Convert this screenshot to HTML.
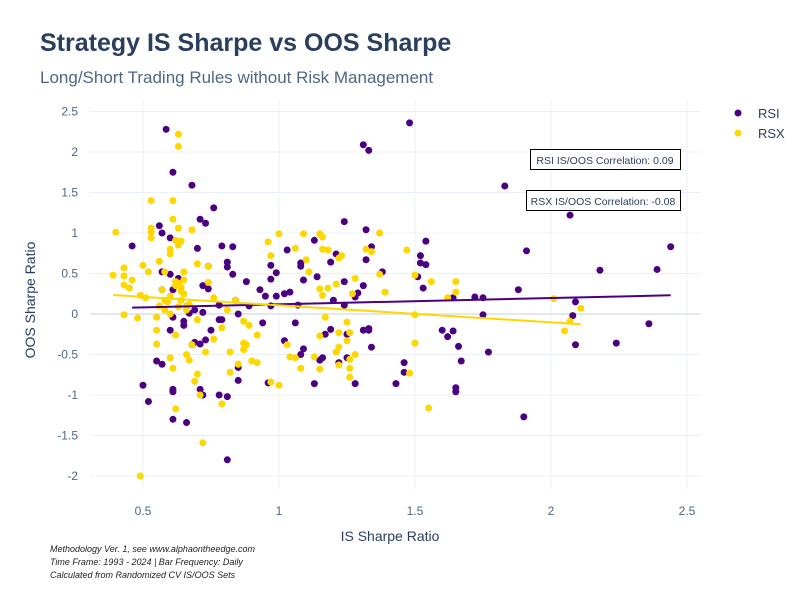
<!DOCTYPE html>
<html><head><meta charset="utf-8"><style>
body{margin:0;background:#fff;font-family:"Liberation Sans",sans-serif;}
svg text{font-family:"Liberation Sans",sans-serif;}
</style></head><body>
<svg id="c" width="800" height="600" xmlns="http://www.w3.org/2000/svg">
<rect width="800" height="600" fill="#fff"/>
<text x="40" y="51" font-size="25" font-weight="bold" fill="#2a3f5f">Strategy IS Sharpe vs OOS Sharpe</text>
<text x="40" y="83" font-size="17" fill="#506784">Long/Short Trading Rules without Risk Management</text>
<g id="grid"></g><g id="marks"></g>
<text x="390" y="541" font-size="14" fill="#2a3f5f" text-anchor="middle">IS Sharpe Ratio</text>
<text transform="translate(35,300) rotate(-90)" font-size="14" fill="#2a3f5f" text-anchor="middle">OOS Sharpe Ratio</text>
<g>
<g><circle cx="738" cy="113" r="3.5" fill="#4b0082"/><text x="758" y="118" font-size="13" fill="#2a3f5f">RSI</text></g>
<g><circle cx="738" cy="133" r="3.5" fill="#ffd700"/><text x="758" y="138" font-size="13" fill="#2a3f5f">RSX</text></g>
</g>
<g><rect x="530.5" y="149.5" width="150" height="20" fill="#fff" stroke="#000"/><text x="605" y="164" font-size="10.5" fill="#2a3f5f" text-anchor="middle">RSI IS/OOS Correlation: 0.09</text></g>
<g><rect x="526.5" y="190.5" width="154" height="20" fill="#fff" stroke="#000"/><text x="603" y="205" font-size="10.5" fill="#2a3f5f" text-anchor="middle">RSX IS/OOS Correlation: -0.08</text></g>
<g font-size="9" font-style="italic" fill="#222">
<text x="50" y="552">Methodology Ver. 1, see www.alphaontheedge.com</text>
<text x="50" y="565">Time Frame: 1993 - 2024 | Bar Frequency: Daily</text>
<text x="50" y="578">Calculated from Randomized CV IS/OOS Sets</text>
</g>
</svg>
<script>
const xTicks=[0.5,1,1.5,2,2.5];
const yTicks=[2.5,2,1.5,1,0.5,0,-0.5,-1,-1.5,-2];
const rsiX=[.585,.61,.68,.76,.73,.71,.56,.57,.46,.6,.79,.83,.81,.7,.81,.74,.83,.57,.6,.72,.63,.57,.61,.74,.78,.69,.79,.85,.89,.93,1.02,.99,1.07,.88,.97,.99,1.08,1.03,1.13,1.21,1.24,1.19,1.32,1.34,1.32,1.38,1.31,1.24,1.29,1.28,1.2,1.04,1.09,1.14,1.08,.97,.97,1.31,1.33,1.48,1.54,1.52,1.52,1.54,1.51,1.53,1.64,1.64,1.62,1.67,1.66,1.65,1.65,1.72,1.75,1.75,1.77,1.83,1.88,1.91,2.07,2.09,2.08,2.09,1.9,2.18,2.24,2.36,2.39,2.44,.5,.52,.61,.61,.61,.66,.71,.72,.81,.78,.85,.85,.81,.55,.57,.6,.65,.68,.71,.73,.75,.78,.72,.67,.61,.65,.69,.94,.95,.84,1.02,1.06,1.08,1.09,1.16,1.17,1.19,1.22,1.25,1.24,1.25,1.31,1.33,1.34,1.33,1.28,1.15,1.13,.96,1.43,1.6,1.46,1.46];
const rsiY=[2.28,1.75,1.59,1.31,1.12,1.17,1.09,1.0,.84,.94,.84,.83,.64,.81,.58,.59,.49,.52,.49,.35,.44,.3,.3,.31,.11,.05,-.07,0,.1,.3,.25,.22,.11,.4,.6,.51,.63,.79,.91,.74,1.14,.64,1.04,.83,.67,.52,.35,.4,.26,.21,.17,.27,.42,.46,.59,.1,.43,2.09,2.02,2.36,.9,.72,.63,.61,.46,.32,.2,-.21,-.28,-.58,-.4,-.91,-.96,.21,-.01,.2,-.47,1.58,.3,.78,1.22,.15,-.02,-.38,-1.27,.54,-.36,-.12,.55,.83,-.88,-1.08,-.93,-1.3,-.96,-1.34,-.93,-1.0,-1.8,-1.0,-.82,-.66,-1.02,-.58,-.62,-.2,-.14,-.38,-.37,-.32,-.2,-.07,.02,.01,-.04,-.09,-.35,-.11,.22,.17,-.33,-.11,-.5,-.43,-.54,-.25,-.19,-.6,-.54,.11,-.25,-.2,-.2,-.41,-.18,-.86,-.57,-.86,-.85,-.86,-.2,-.6,-.72];
const rsxX=[.4,.63,.63,.53,.61,.61,.53,.53,.53,.63,.63,.62,.64,.68,.6,.6,.56,.5,.52,.58,.65,.7,.74,.74,.65,.62,.64,.65,.64,.63,.58,.56,.51,.49,.43,.45,.43,.43,.39,.43,.48,.46,.55,.55,.55,.62,.6,.61,.66,.67,.68,.7,.73,.7,.69,.71,.62,.72,.49,.79,.87,.87,.85,.82,.82,.81,.76,.79,.88,.89,.9,.92,.92,.87,.76,.84,.96,.97,1.0,.97,1.0,1.03,1.06,1.04,1.06,1.09,1.1,1.11,1.15,1.16,1.16,1.18,1.18,1.15,1.16,1.15,1.17,1.22,1.25,1.26,1.25,1.22,1.21,1.28,1.26,1.26,1.26,1.22,1.15,1.08,1.13,1.22,1.23,1.21,1.28,1.27,1.32,1.37,1.34,1.37,1.39,1.47,1.5,1.5,1.5,1.48,1.55,1.56,1.62,1.65,1.65,2.01,2.05,2.11,2.07,.57,.59,.6,.62,.64,.66,.67,.6,.58,.63,.66];
const rsxY=[1.01,2.22,2.07,1.4,1.4,1.17,1.06,1.01,.94,1.06,.85,.91,.9,1.04,.74,.8,.65,.6,.52,.52,.52,.62,.59,.39,.42,.4,.33,.25,.17,.09,.17,.1,.2,.23,.36,.32,.47,.57,.48,-.01,-.05,.42,-.04,-.2,-.37,-.26,-.54,-.67,-.5,-.57,-.38,-.07,-.47,-.74,-.83,-1.0,-1.17,-1.59,-2.0,-1.11,-.36,-.44,-.62,-.72,-.47,.05,-.31,-.17,-.38,-.14,-.58,-.26,-.6,-.09,.2,.17,.89,.72,.99,-.84,-.88,-.38,-.54,-.53,.81,.99,.67,.52,.99,.95,.8,.79,.32,.31,.23,-.27,-.04,-.23,-.1,-.23,-.33,-.41,-.47,-.5,-.56,-.78,-.67,-.63,-.68,-.67,-.53,.69,.72,.37,.44,.25,.8,1.0,.77,.49,.27,.79,.48,-.01,-.36,-.73,-1.16,.4,.2,.4,.27,.19,-.21,.07,-.09,.3,.15,.22,.35,.28,.05,.12,.0,.05,.38,.1];
const NS="http://www.w3.org/2000/svg";
const X0=90,X1=700,Y0=100,Y1=490;
const sx=v=>7+272*v, sy=v=>314-81*v;
const grid=document.getElementById('grid'), marks=document.getElementById('marks');
function mk(tag,attrs,parent){const e=document.createElementNS(NS,tag);for(const k in attrs)e.setAttribute(k,attrs[k]);parent.appendChild(e);return e;}
xTicks.forEach(t=>{
  const l=mk('line',{x1:sx(t),x2:sx(t),y1:Y0,y2:Y1,stroke:'#ebf0f8','stroke-width':1},grid);
  
  
  const tx=mk('text',{x:sx(t),y:515,'font-size':12,fill:'#506784','text-anchor':'middle'},grid);
  tx.textContent=String(t);
  
  
});
yTicks.forEach(t=>{
  const l=mk('line',{x1:X0,x2:X1,y1:sy(t),y2:sy(t),stroke:t===0?'#e3e8f0':'#ebf0f8','stroke-width':t===0?2:1},grid);
  
  
  const tx=mk('text',{x:78,y:sy(t)+4,'font-size':12,fill:'#506784','text-anchor':'end'},grid);
  tx.textContent=String(t);
  
  
});
function fit(xs,ys){const n=xs.length;let mx=0,my=0;for(let i=0;i<n;i++){mx+=xs[i];my+=ys[i];}mx/=n;my/=n;let sxy=0,sxx=0;for(let i=0;i<n;i++){sxy+=(xs[i]-mx)*(ys[i]-my);sxx+=(xs[i]-mx)**2;}const b=sxy/sxx;return [b,my-b*mx];}
function series(xs,ys,color,name){
  xs.forEach((x,i)=>{
    const c=mk('circle',{cx:sx(x),cy:sy(ys[i]),r:3.5,fill:color},marks);
    
    
  });
}
function trend(xs,ys,color,name){
  const [b,a]=fit(xs,ys);const lo=Math.min(...xs),hi=Math.max(...xs);
  const l=mk('line',{x1:sx(lo),y1:sy(a+b*lo),x2:sx(hi),y2:sy(a+b*hi),stroke:color,'stroke-width':2},marks);
  
  
}
series(rsiX,rsiY,'#4b0082','rsi');
series(rsxX,rsxY,'#ffd700','rsx');
trend(rsiX,rsiY,'#4b0082','rsi');
trend(rsxX,rsxY,'#ffd700','rsx');
</script>
</body></html>
